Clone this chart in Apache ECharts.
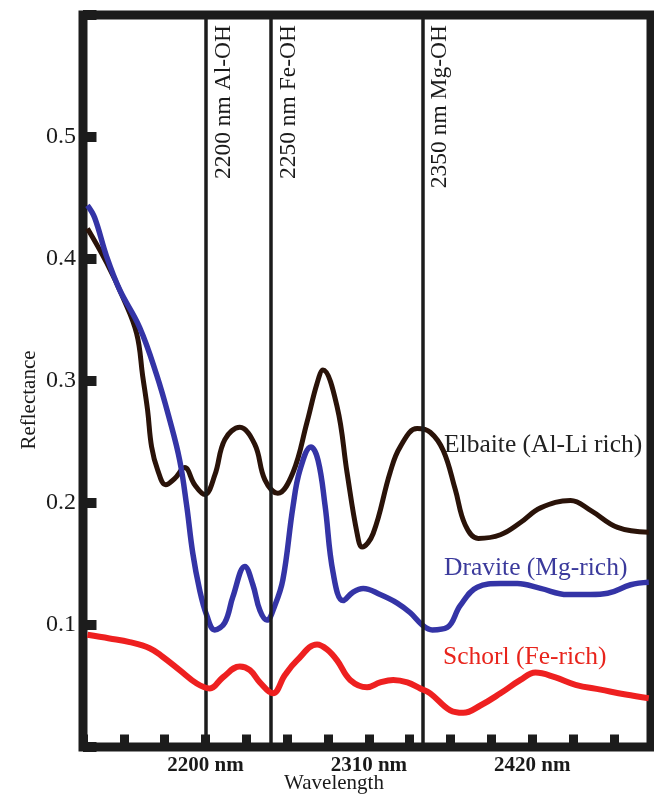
<!DOCTYPE html>
<html><head><meta charset="utf-8">
<script src="https://cdn.jsdelivr.net/npm/echarts@6/dist/echarts.min.js"></script>
<style>html,body{margin:0;padding:0;background:#fff}#c{width:654px;height:794px}</style>
</head><body><div id="c"></div>
<script>
// Reflectance spectra (wavelength nm, reflectance)
const elbaite = [[2120.5,0.425],[2133.4,0.397],[2144.2,0.369],[2153.6,0.339],[2157.7,0.304],[2161.0,0.276],[2163.7,0.246],[2167.8,0.227],[2173.2,0.215],[2179.2,0.220],[2186.0,0.229],[2192.7,0.215],[2199.5,0.207],[2206.3,0.223],[2213.0,0.252],[2223.1,0.262],[2233.2,0.248],[2240.0,0.219],[2248.7,0.208],[2258.9,0.225],[2268.3,0.266],[2275.1,0.298],[2279.1,0.309],[2288.6,0.279],[2295.3,0.225],[2302.1,0.175],[2305.5,0.164],[2312.9,0.175],[2324.3,0.225],[2331.1,0.246],[2342.5,0.261],[2351.3,0.258],[2360.1,0.243],[2368.2,0.211],[2374.9,0.182],[2383.7,0.171],[2398.6,0.174],[2412.1,0.184],[2425.6,0.196],[2445.8,0.202],[2459.3,0.194],[2477.5,0.180],[2498.5,0.176]];
const dravite = [[2120.5,0.444],[2125.3,0.434],[2133.4,0.402],[2142.1,0.375],[2155.6,0.344],[2167.1,0.305],[2175.9,0.268],[2182.6,0.235],[2187.3,0.198],[2191.4,0.159],[2196.0,0.129],[2200.8,0.108],[2206.2,0.096],[2213.0,0.102],[2218.4,0.123],[2226.5,0.148],[2231.9,0.133],[2236.6,0.112],[2241.3,0.104],[2246.7,0.116],[2252.1,0.137],[2258.9,0.197],[2263.6,0.227],[2271.0,0.246],[2275.8,0.235],[2280.5,0.198],[2285.9,0.143],[2292.6,0.120],[2299.4,0.127],[2306.2,0.130],[2317.6,0.125],[2329.1,0.118],[2337.9,0.110],[2346.0,0.100],[2352.7,0.096],[2362.8,0.098],[2371.6,0.116],[2383.0,0.131],[2398.6,0.134],[2410.0,0.134],[2425.6,0.130],[2443.8,0.125],[2459.3,0.125],[2470.8,0.126],[2486.3,0.133],[2498.5,0.135]];
const schorl = [[2120.5,0.092],[2135.4,0.089],[2148.9,0.086],[2162.4,0.081],[2171.1,0.074],[2182.6,0.063],[2194.1,0.052],[2202.9,0.048],[2211.6,0.057],[2223.1,0.066],[2229.9,0.063],[2236.6,0.053],[2245.4,0.044],[2253.5,0.059],[2261.6,0.071],[2275.1,0.084],[2281.8,0.080],[2288.6,0.071],[2297.4,0.055],[2308.8,0.049],[2317.6,0.053],[2326.4,0.055],[2335.9,0.053],[2344.6,0.048],[2351.3,0.044],[2364.8,0.030],[2373.6,0.028],[2385.1,0.034],[2398.6,0.044],[2412.1,0.055],[2422.2,0.061],[2435.7,0.057],[2449.2,0.051],[2466.1,0.047],[2483.0,0.043],[2498.5,0.040]];
const seriesNames = ['Elbaite (Al-Li rich)', 'Dravite (Mg-rich)', 'Schorl (Fe-rich)'];
const annotationWavelengths = [2200, 2244, 2346];
const annotationLabels = ['2200 nm Al-OH', '2250 nm Fe-OH', '2350 nm Mg-OH'];
const xLabelValues = [2200, 2310, 2420];
const yLabelValues = [0.1, 0.2, 0.3, 0.4, 0.5];

const FONT = "'Liberation Serif', 'Times New Roman', serif";
const INK = '#1c1c1c';
const chart = echarts.init(document.getElementById('c'), null, {renderer: 'canvas'});
const lineCommon = {type: 'line', showSymbol: false, smooth: 0.4, silent: true};
chart.setOption({
  backgroundColor: '#ffffff',
  animation: false,
  grid: {left: 83, right: 3, top: 15, bottom: 47, show: true, borderColor: INK, borderWidth: 9, backgroundColor: 'transparent'},
  xAxis: {
    type: 'value', min: 2117.5, max: 2500, interval: 27.5,
    axisLine: {show: false},
    splitLine: {show: false},
    axisTick: {show: true, inside: true, length: 12.5, lineStyle: {color: INK, width: 9}},
    axisLabel: {
      show: true, margin: 8, color: '#1a1a1a', fontFamily: FONT, fontSize: 21, fontWeight: 'bold',
      formatter: v => xLabelValues.some(x => Math.abs(x - v) < 0.01) ? v + ' nm' : ''
    }
  },
  yAxis: {
    type: 'value', min: 0, max: 0.6, interval: 0.1,
    axisLine: {show: false},
    splitLine: {show: false},
    axisTick: {show: true, inside: true, length: 13.5, lineStyle: {color: INK, width: 10}},
    axisLabel: {
      show: true, margin: 7, color: '#1a1a1a', fontFamily: FONT, fontSize: 24,
      formatter: v => yLabelValues.some(y => Math.abs(y - v) < 1e-6) ? String(Math.round(v * 10) / 10) : ''
    }
  },
  graphic: [
    {type: 'text', x: 29, y: 400, rotation: Math.PI / 2, style: {text: 'Reflectance', font: "21px " + FONT, fill: '#1a1a1a', align: 'center', verticalAlign: 'middle'}},
    {type: 'text', x: 334, y: 783, style: {text: 'Wavelength', font: "21px " + FONT, fill: '#1a1a1a', align: 'center', verticalAlign: 'middle'}},
    {type: 'text', x: 444, y: 445, style: {text: seriesNames[0], font: "25.5px " + FONT, fill: '#222222', verticalAlign: 'middle'}},
    {type: 'text', x: 444, y: 568, style: {text: seriesNames[1], font: "25.5px " + FONT, fill: '#3b3a9c', verticalAlign: 'middle'}},
    {type: 'text', x: 443, y: 657, style: {text: seriesNames[2], font: "25.5px " + FONT, fill: '#e8241c', verticalAlign: 'middle'}}
  ],
  series: [
    {
      type: 'line', data: [], z: 1, silent: true,
      markLine: {
        silent: true, symbol: 'none', animation: false,
        lineStyle: {color: INK, width: 3.5, type: 'solid'},
        label: {show: true, position: 'insideEndBottom', distance: [10, 6], color: '#1a1a1a', fontFamily: FONT, fontSize: 23.5},
        data: annotationWavelengths.map((x, i) => ({xAxis: x, label: {formatter: annotationLabels[i]}}))
      }
    },
    Object.assign({}, lineCommon, {name: seriesNames[0], data: elbaite, z: 3, lineStyle: {color: '#2a1309', width: 5}}),
    Object.assign({}, lineCommon, {name: seriesNames[1], data: dravite, z: 4, lineStyle: {color: '#3434a6', width: 5.5}}),
    Object.assign({}, lineCommon, {name: seriesNames[2], data: schorl, z: 5, lineStyle: {color: '#ee2020', width: 6}})
  ]
});
</script></body></html>
